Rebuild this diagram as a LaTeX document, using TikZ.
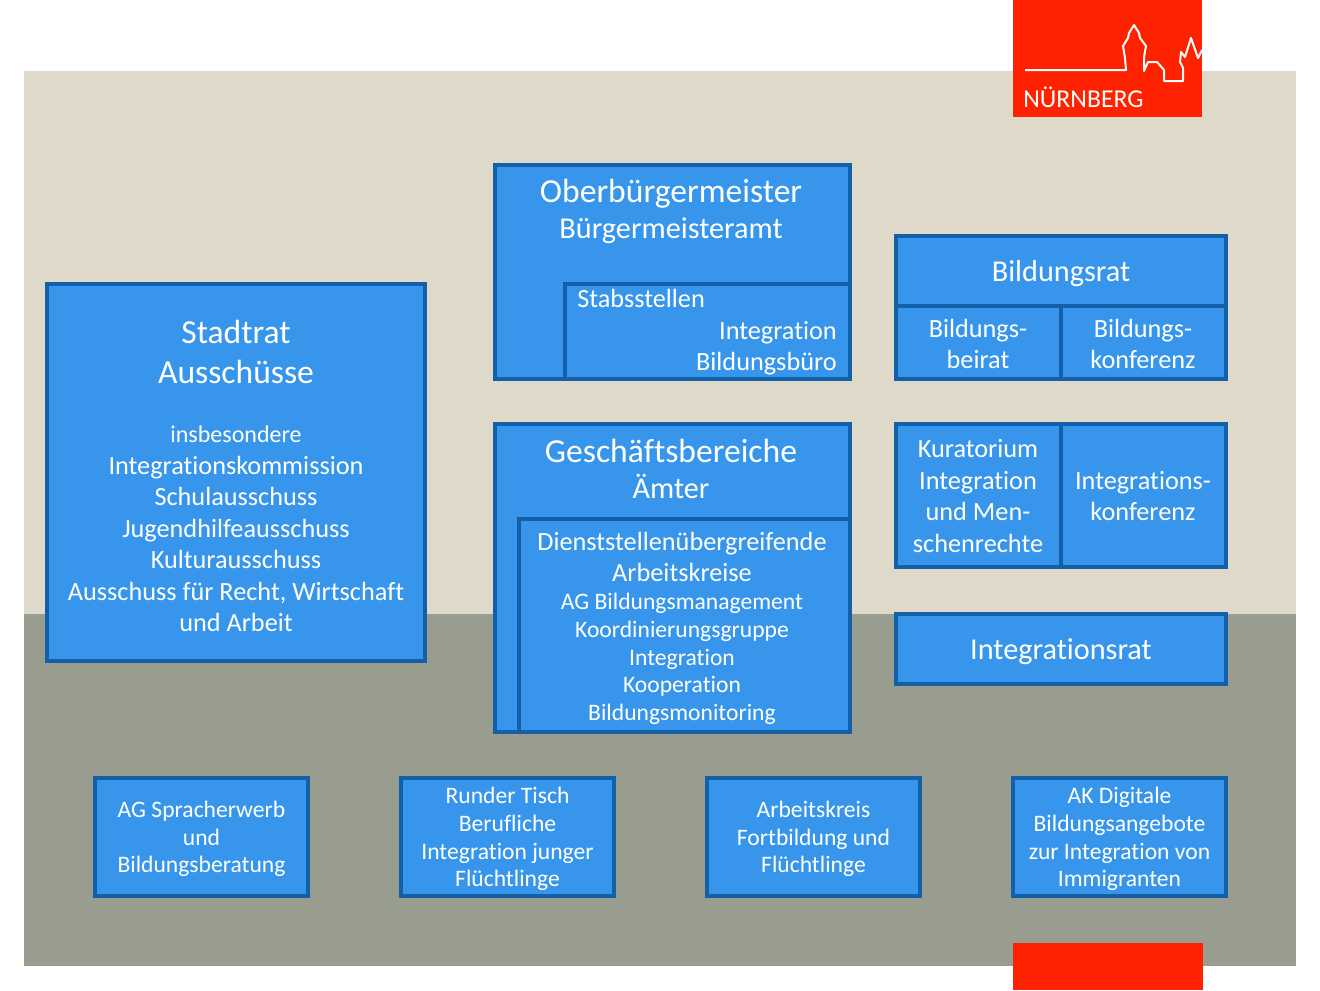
\documentclass[tikz,border=0pt]{standalone}
\usepackage{fontspec}
\setmainfont[Ligatures=NoCommon]{Carlito}
\usetikzlibrary{positioning}
\definecolor{beigeBg}{HTML}{DED9C8}
\definecolor{grayBg}{HTML}{989D90}
\definecolor{logoRed}{HTML}{FF2200}
\definecolor{boxFill}{HTML}{3796EC}
\definecolor{boxLine}{HTML}{1460A8}
\newcommand{\sz}[2]{\fontsize{#1}{#2}\selectfont}
\tikzset{
  orgBox/.style={draw=boxLine,fill=boxFill,line width=2.5pt,outer sep=0pt,inner sep=0pt,anchor=north west},
  orgText/.style={text=white,align=center,inner sep=0pt},
  titleText/.style={orgText,font=\sz{25.2}{30}},
  subText/.style={orgText,font=\sz{22.7}{24}},
  bodyText/.style={orgText,font=\sz{19.7}{23.6}},
  smallText/.style={orgText,font=\sz{17.7}{20.8}},
}

\begin{document}
\begin{tikzpicture}[x=0.75pt,y=-0.75pt]
\useasboundingbox (0,0) rectangle (1320,990);

% ===== Background =====
\fill[white] (0,0) rectangle (1320,990);
\fill[beigeBg] (24,71) rectangle (1296,614);
\fill[grayBg] (24,614) rectangle (1296,966);

% ===== Logo =====
\fill[logoRed] (1013,0) rectangle (1202,117);
\fill[logoRed] (1013,943) rectangle (1203,990);
\draw[white,line width=1.5pt,line join=round]
  (1025,70) -- (1126,70) -- (1125,58) -- (1123,46) -- (1128,38) -- (1129,33) -- (1134,25) -- (1139,33) -- (1140,38)
  -- (1146,46) -- (1144,57) -- (1144,71) -- (1148,62) -- (1157,62) -- (1164,70) -- (1164,81)
  -- (1183,81) -- (1183,68) -- (1180,62) -- (1181,52) -- (1185,57) -- (1191,38) -- (1198,58) -- (1202,50);
\node[text=white,inner sep=0pt,anchor=west,font=\sz{19.3}{20}] (logoName) at (1023,97) {NÜRNBERG};

% ===== Stadtrat =====
\node[orgBox,minimum width=378*0.75pt,minimum height=377*0.75pt] (stadtrat) at (47,284) {};
\node[titleText] (stadtratTitle) at (236,352) {Stadtrat\\Ausschüsse};
\node[bodyText] (stadtratBody) at (236,529) {\sz{18}{23.8}insbesondere\\\sz{19.7}{23.8}Integrationskommission\\Schulausschuss\\Jugendhilfeausschuss\\Kulturausschuss\\Ausschuss für Recht, Wirtschaft\\und Arbeit};

% ===== Oberbuergermeister =====
\node[orgBox,minimum width=355*0.75pt,minimum height=214*0.75pt] (obm) at (495,165) {};
\node[orgBox,minimum width=285*0.75pt,minimum height=95*0.75pt] (stab) at (565,284) {};
\node[titleText] (obmTitle) at (671,194) {Oberbürgermeister};
\node[subText] (obmSub) at (671,231) {Bürgermeisteramt};
\node[bodyText,anchor=west] (stabTitle) at (577,298) {Stabsstellen};
\node[bodyText,align=right,anchor=east] (stabBody) at (837,348) {Integration\\Bildungsbüro};

% ===== Geschaeftsbereiche =====
\node[orgBox,minimum width=355*0.75pt,minimum height=308*0.75pt] (gb) at (495,424) {};
\node[orgBox,minimum width=331*0.75pt,minimum height=213*0.75pt] (dienst) at (519,519) {};
\node[titleText] (gbTitle) at (671,451) {Geschäftsbereiche};
\node[subText] (gbSub) at (671,486) {Ämter};
\node[bodyText] (dienstTitle) at (682,557) {Dienststellenübergreifende\\Arbeitskreise};
\node[smallText] (dienstBody) at (682,659) {AG Bildungsmanagement\\Koordinierungsgruppe\\Integration\\Kooperation\\Bildungsmonitoring};

% ===== Bildungsrat =====
\node[orgBox,minimum width=330*0.75pt,minimum height=143*0.75pt] (brat) at (896,236) {};
\node[orgBox,minimum width=165*0.75pt,minimum height=73*0.75pt] (bbeirat) at (896,306) {};
\node[orgBox,minimum width=165*0.75pt,minimum height=73*0.75pt] (bkonf) at (1061,306) {};
\node[subText] (bratTitle) at (1061,274) {Bildungsrat};
\node[bodyText] (bbeiratText) at (978,344) {Bildungs-\\beirat};
\node[bodyText] (bkonfText) at (1143,344) {Bildungs-\\konferenz};

% ===== Kuratorium =====
\node[orgBox,minimum width=165*0.75pt,minimum height=143*0.75pt] (kurat) at (896,424) {};
\node[orgBox,minimum width=165*0.75pt,minimum height=143*0.75pt] (ikonf) at (1061,424) {};
\node[bodyText] (kuratText) at (978,496) {Kuratorium\\Integration\\und Men-\\schenrechte};
\node[bodyText] (ikonfText) at (1143,496) {Integrations-\\konferenz};

% ===== Integrationsrat =====
\node[orgBox,minimum width=330*0.75pt,minimum height=70*0.75pt] (irat) at (896,614) {};
\node[subText] (iratText) at (1061,652) {Integrationsrat};

% ===== Arbeitsgruppen =====
\foreach \n/\x/\t in {ag/95/{AG Spracherwerb\\und\\Bildungsberatung},
    tisch/401/{Runder Tisch\\Berufliche\\Integration junger\\Flüchtlinge},
    ak/707/{Arbeitskreis\\Fortbildung und\\Flüchtlinge},
    digital/1013/{AK Digitale\\Bildungsangebote\\zur Integration von\\Immigranten}} {
  \node[orgBox,minimum width=213*0.75pt,minimum height=118*0.75pt] (\n) at (\x,778) {};
  \node[smallText] (\n Text) at ([yshift=-1.5pt]\n.center) {\t};
}
\end{tikzpicture}
\end{document}
